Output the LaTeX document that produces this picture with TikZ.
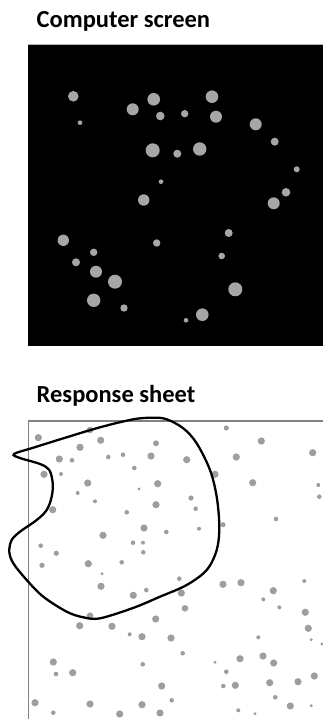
\documentclass[tikz,border=0pt]{standalone}
\usepackage{fontspec}
\setmainfont{Carlito}
\definecolor{dotgray}{RGB}{166,166,166}
\definecolor{sheetdot}{RGB}{158,158,158}
\definecolor{sheetline}{RGB}{130,130,130}
\begin{document}
\begin{tikzpicture}[x=1pt,y=-1pt,
  title/.style={anchor=base west,inner sep=0pt,font=\fontsize{24.5}{28}\selectfont\bfseries},
  dot/.style={fill=dotgray},
  sdot/.style={fill=sheetdot},
  outline/.style={line width=2.3pt,black}]
\useasboundingbox (0,0) rectangle (323,719);
% titles
\node[title] (t1) at (36.5,27.5) {Computer screen};
\node[title] (t2) at (36.5,402) {Response sheet};
% screen
\fill[black] (28,44) rectangle (323,346);
\draw[gray!60,line width=0.8pt] (28,44) -- (323,44);
\foreach \x/\y/\r in {
73.3/96.3/5.3, 80/122.7/2.3, 132.7/109.3/6, 153.7/99.3/6.3, 160.3/116/4.3,
184.7/113.7/3.7, 212/96.7/6.3, 216/116.7/6, 255.7/124.3/6, 274.7/141.7/4,
296.7/169.3/3, 152.7/150.3/7, 177.3/153.7/4, 199.7/149/6.7, 161/181.7/2.3,
143.7/200/5.7, 286/192.3/4.3, 273.7/203.3/6, 228.7/233/4, 63.3/240.3/5.7,
156.7/243/3.7, 93.7/252.3/3.7, 76/262.3/4, 221.7/256/3.3, 96/271.7/6,
115/281.7/7, 235.3/289.3/7, 93.7/300.3/6.7, 124/308/3.7, 186/320.3/2.3,
202.3/314.7/6.3}
  \fill[dot] (\x,\y) circle[radius=\r pt];
% response sheet
\draw[sheetline,line width=1.1pt] (28.5,719) -- (28.5,421) -- (323,421);
\foreach \x/\y/\r in {
38.3/437.7/3.3, 90/430/3, 100.7/440.3/3.3, 80/447.3/3.3, 156/443.3/2.7,
226.3/428/2.3, 261.3/441/3.3, 312.7/452.7/3.3, 59.3/459/3.3, 72/460.3/2,
108.3/457/2, 123/454.7/2, 151/456/3.3, 186.7/459.7/3.3, 236.3/457/3.3,
44/474.3/3.3, 61/474/1.7, 134.3/468/2, 215/474.3/3.3, 87.7/483/3.3,
157.7/483.7/3.3, 252.7/482.7/3.3, 318.3/485/1.7, 139/489/1.3, 77.7/493/1.7,
191/498/2.3, 319.3/496.7/2, 95/501.3/1.7, 156/504.7/3.3, 195.7/508.7/2,
52.7/509.7/3.3, 126.7/512.3/2, 276/519/2, 223/524.7/2.3, 144/528/3.3,
199/528.7/1.7, 166.3/532/2, 103/535.3/3.3, 40.7/545.7/2, 133/542.7/2,
143/542.7/1.7, 143.3/552.3/2, 56.3/553.3/2.3, 42/565.3/2.3, 88.3/563.7/3.3,
121.7/562.3/2, 102/573.7/1.3, 179.3/578.7/2, 304.3/581/1.7, 101/586.3/3.3,
223/584.3/3.3, 241/582.7/3.3, 146.3/590/2, 181.3/593/3.3, 273.3/590.7/3.3,
133.3/595.3/3.3, 263.3/599.3/1.7, 185/608.3/3, 279.3/607.3/1.7, 305.3/612.3/3.3,
90/615.7/3, 155.7/619/3.3, 79.7/625.7/3.3, 112/626.3/3.3, 308.3/628.3/3.3,
129.7/634.3/1.7, 142/636.7/3.3, 171/638/3.3, 258.3/637.3/1.7, 311.3/639.7/1.3,
322/644/1.3, 182.7/653.3/2, 53.3/662/3.3, 240/658.7/3.3, 263/656/3.3,
273.7/663/3.3, 142.7/664.3/2, 215/662.3/1.3, 56/674/2, 72.7/672.7/3.3,
226.3/671.7/2, 161.7/686/3.3, 223.3/686/2, 235.3/685.3/3.3, 269.7/682.7/3.3,
298/681.7/3.3, 314.3/676/3.3, 35/702.7/3.3, 90/704/3.3, 142/704.7/3.3,
171.7/700.3/2, 275.3/697.3/2, 290.3/706/3.3, 311.3/705.7/1.3, 53.3/712.7/2,
119.7/714/3.3, 160/713/3.3, 238.3/710.3/1.7, 255/713.7/1.3}
  \fill[sdot] (\x,\y) circle[radius=\r pt+0.3pt];
% outline curve
\draw[outline] plot[smooth cycle,tension=0.55] coordinates {
(14,454) (33.3,447.7) (66.7,437.3) (100,427.3) (133.3,419.3) (153.3,417.7)
(166.7,419.3) (183.3,428.3) (196.7,443.3) (210,470) (216.7,496.7) (219.3,526.7)
(216.7,550) (206.7,570) (186.7,585) (160,596.7) (133,608) (100,618.3)
(83.3,617.3) (66.7,611.7) (43.3,596.7) (26.7,580) (13.3,563.3) (9.3,551.7)
(11.7,540) (20,531.7) (36.7,520) (46.7,510) (51.7,496.7) (52.7,483)
(49.3,470) (40,464) (20,458)};
\end{tikzpicture}
\end{document}
